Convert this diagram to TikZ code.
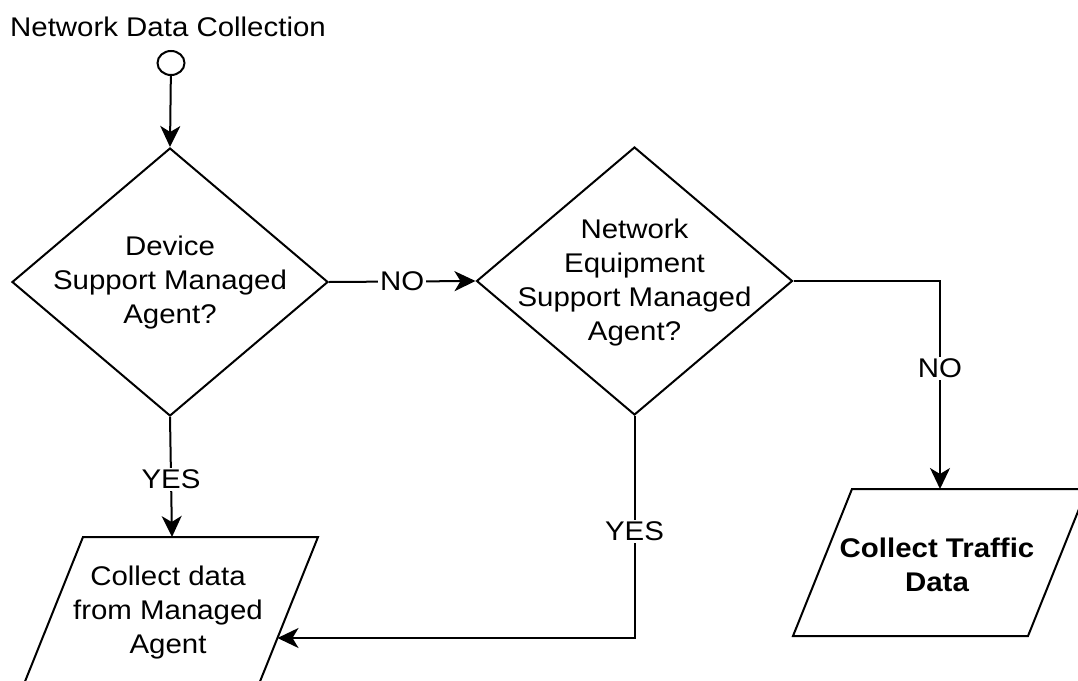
\documentclass[tikz,border=0pt]{standalone}
\usepackage{fontspec}
\setmainfont{Liberation Sans}[FakeStretch=1.09]
\usetikzlibrary{shapes.geometric,arrows.meta,calc}
\begin{document}
\begin{tikzpicture}[x=1pt,y=-1pt,
  every node/.style={font=\fontsize{27}{34}\selectfont, text=black},
  shp/.style={draw=black, line width=2pt, fill=white},
  dec/.style={shp, diamond, minimum width=316pt, minimum height=268pt, inner sep=0pt},
  conn/.style={draw=black, line width=2pt, -{Stealth[length=21pt,width=20pt,inset=6pt]}},
  lbl/.style={fill=white, inner sep=2pt},
  txt/.style={align=center, inner sep=0pt}]
\useasboundingbox (0,0) rectangle (1078,680);
% title and start
\node[txt] (title) at (168,27) {Network Data Collection};
\node[shp, ellipse, minimum width=27pt, minimum height=24pt, inner sep=0pt] (start) at (171,63) {};
% decisions
\node[dec] (d1) at (170,282) {};
\node[txt] (d1t) at (170,283) {Device\\Support Managed\\Agent?};
\node[dec] (d2) at (634.5,281) {};
\node[txt] (d2t) at (634.5,283) {Network\\Equipment\\Support Managed\\Agent?};
% outputs
\draw[shp] (83,537) coordinate (p1tl) -- (318,537) coordinate (p1tr) -- (259,684) coordinate (p1br) -- (24,684) coordinate (p1bl) -- cycle;
\coordinate (p1top) at (172,537);
\coordinate (p1in) at (277.5,638);
\node[txt] (p1t) at (168,613) {Collect data\\from Managed\\Agent};
\draw[shp] (852,489) coordinate (p2tl) -- (1087,489) coordinate (p2tr) -- (1028,636) coordinate (p2br) -- (793,636) coordinate (p2bl) -- cycle;
\coordinate (p2top) at (940,489);
\node[txt, font=\fontsize{27}{34}\selectfont\bfseries] (p2t) at (937,565) {Collect Traffic\\Data};
% connectors
\draw[conn] (start) -- (d1.north);
\draw[conn] (d1.east) -- node[lbl] {NO} (d2.west);
\draw[conn] (d2.east) -| node[lbl, pos=0.71] {NO} (p2top);
\draw[conn] (d1.south) -- node[lbl, pos=0.52] {YES} (p1top);
\draw[conn] (d2.south) |- node[lbl, pos=0.26] {YES} (p1in);
\end{tikzpicture}
\end{document}
